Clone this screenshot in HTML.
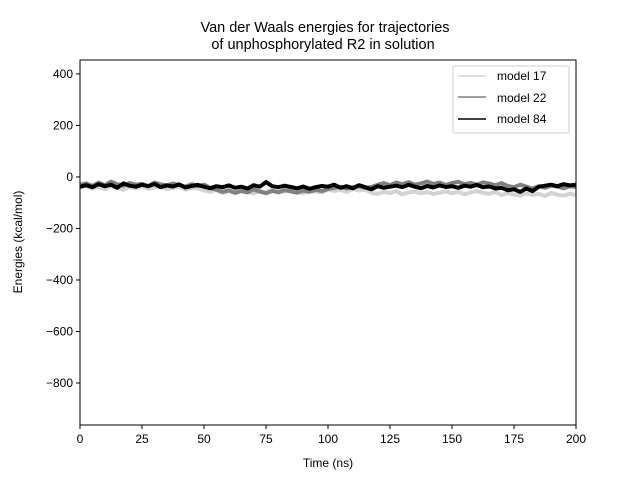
<!DOCTYPE html>
<html><head><meta charset="utf-8"><style>
body{margin:0;background:#fff;font-family:"Liberation Sans",sans-serif}
svg text{font-family:"Liberation Sans",sans-serif}
</style></head><body>
<svg id="chart" width="640" height="480" xmlns="http://www.w3.org/2000/svg">
<rect width="640" height="480" fill="#fff"/>
<text x="325" y="32" font-size="14.5" text-anchor="middle">Van der Waals energies for trajectories</text>
<text x="323" y="49" font-size="14.5" text-anchor="middle">of unphosphorylated R2 in solution</text>
<g id="series"></g>
<g id="axes"></g>
<text x="328" y="467" font-size="12" text-anchor="middle">Time (ns)</text>
<text transform="translate(22,242) rotate(-90)" font-size="12" text-anchor="middle">Energies (kcal/mol)</text>
<g>
<rect x="453" y="66" width="116" height="67" fill="#fff" stroke="#ccc" rx="2"/>
<line x1="458" y1="76" x2="486" y2="76" stroke="#d3d3d3" stroke-width="1.5"/>
<text x="497" y="80" font-size="12">model 17</text>
<line x1="458" y1="97" x2="486" y2="97" stroke="#808080" stroke-width="1.5"/>
<text x="497" y="102" font-size="12">model 22</text>
<line x1="458" y1="119" x2="486" y2="119" stroke="#000" stroke-width="1.5"/>
<text x="497" y="123" font-size="12">model 84</text>
</g>
</svg>
<script>
const xTicks=[0,25,50,75,100,125,150,175,200];
const yTicks=[400,200,0,-200,-400,-600,-800];
const model17=[-40,-35,-45,-38,-48,-36,-42,-50,-39,-44,-37,-46,-41,-35,-47,-43,-38,-49,-42,-45,-52,-58,-50,-62,-55,-60,-53,-57,-64,-55,-59,-52,-61,-56,-50,-58,-63,-54,-57,-60,-48,-55,-50,-58,-46,-53,-49,-62,-66,-58,-63,-55,-68,-60,-57,-64,-59,-66,-61,-56,-63,-58,-67,-60,-55,-62,-65,-58,-70,-63,-68,-72,-64,-70,-66,-74,-62,-69,-73,-65,-70];
const model22=[-30,-25,-35,-22,-32,-18,-28,-34,-24,-30,-27,-36,-22,-29,-33,-26,-31,-38,-28,-35,-30,-42,-50,-58,-52,-62,-55,-60,-48,-57,-63,-54,-59,-51,-56,-61,-53,-58,-50,-55,-47,-42,-38,-45,-40,-36,-43,-39,-30,-24,-32,-22,-28,-20,-30,-25,-18,-27,-22,-31,-24,-19,-28,-23,-30,-21,-26,-32,-24,-35,-40,-30,-38,-45,-36,-42,-34,-38,-44,-36,-40];
const model84=[-38,-32,-40,-28,-36,-30,-42,-25,-34,-38,-30,-36,-27,-40,-33,-37,-29,-41,-35,-31,-38,-44,-36,-40,-33,-42,-38,-45,-32,-38,-20,-36,-40,-34,-39,-44,-37,-46,-40,-35,-38,-30,-42,-36,-44,-32,-40,-48,-36,-42,-38,-34,-40,-30,-38,-44,-35,-41,-33,-39,-36,-42,-34,-38,-31,-40,-37,-45,-42,-52,-48,-58,-45,-55,-38,-34,-30,-36,-28,-33,-30];
const X0=80,X1=576,Y0=60,Y1=425,XMIN=0,XMAX=200,YMIN=-963,YMAX=454;
const sx=v=>X0+(v-XMIN)/(XMAX-XMIN)*(X1-X0);
const sy=v=>Y1-(v-YMIN)/(YMAX-YMIN)*(Y1-Y0);
const NS="http://www.w3.org/2000/svg";
const sg=document.getElementById('series'),ag=document.getElementById('axes');
function draw(arr,color,name){
  const step=(XMAX-XMIN)/(arr.length-1);
  const p=document.createElementNS(NS,'polyline');
  p.setAttribute('points',arr.map((v,i)=>sx(XMIN+i*step).toFixed(1)+','+sy(v).toFixed(1)).join(' '));
  p.setAttribute('fill','none');p.setAttribute('stroke',color);p.setAttribute('stroke-width','4');p.setAttribute('stroke-linejoin','round');
  
  
  sg.appendChild(p);
}
draw(model17,'#d3d3d3','series-model-17');
draw(model22,'#808080','series-model-22');
draw(model84,'#000','series-model-84');
const fr=document.createElementNS(NS,'rect');
fr.setAttribute('x',X0);fr.setAttribute('y',Y0);fr.setAttribute('width',X1-X0);fr.setAttribute('height',Y1-Y0);
fr.setAttribute('fill','none');fr.setAttribute('stroke','#000');fr.setAttribute('stroke-width','1');


ag.appendChild(fr);
xTicks.forEach(t=>{
  const l=document.createElementNS(NS,'line');
  l.setAttribute('x1',sx(t));l.setAttribute('x2',sx(t));l.setAttribute('y1',Y1);l.setAttribute('y2',Y1+4);l.setAttribute('stroke','#000');
  
  
  ag.appendChild(l);
  const tx=document.createElementNS(NS,'text');
  tx.setAttribute('x',sx(t));tx.setAttribute('y',Y1+18);tx.setAttribute('font-size','12');tx.setAttribute('text-anchor','middle');
  tx.textContent=t;
  
  
  ag.appendChild(tx);
});
yTicks.forEach(t=>{
  const l=document.createElementNS(NS,'line');
  l.setAttribute('x1',X0-4);l.setAttribute('x2',X0);l.setAttribute('y1',sy(t));l.setAttribute('y2',sy(t));l.setAttribute('stroke','#000');
  
  
  ag.appendChild(l);
  const tx=document.createElementNS(NS,'text');
  tx.setAttribute('x',X0-7);tx.setAttribute('y',sy(t)+4);tx.setAttribute('font-size','12');tx.setAttribute('text-anchor','end');
  tx.textContent=t<0?'\u2212'+Math.abs(t):t;
  
  
  ag.appendChild(tx);
});
</script>
</body></html>
